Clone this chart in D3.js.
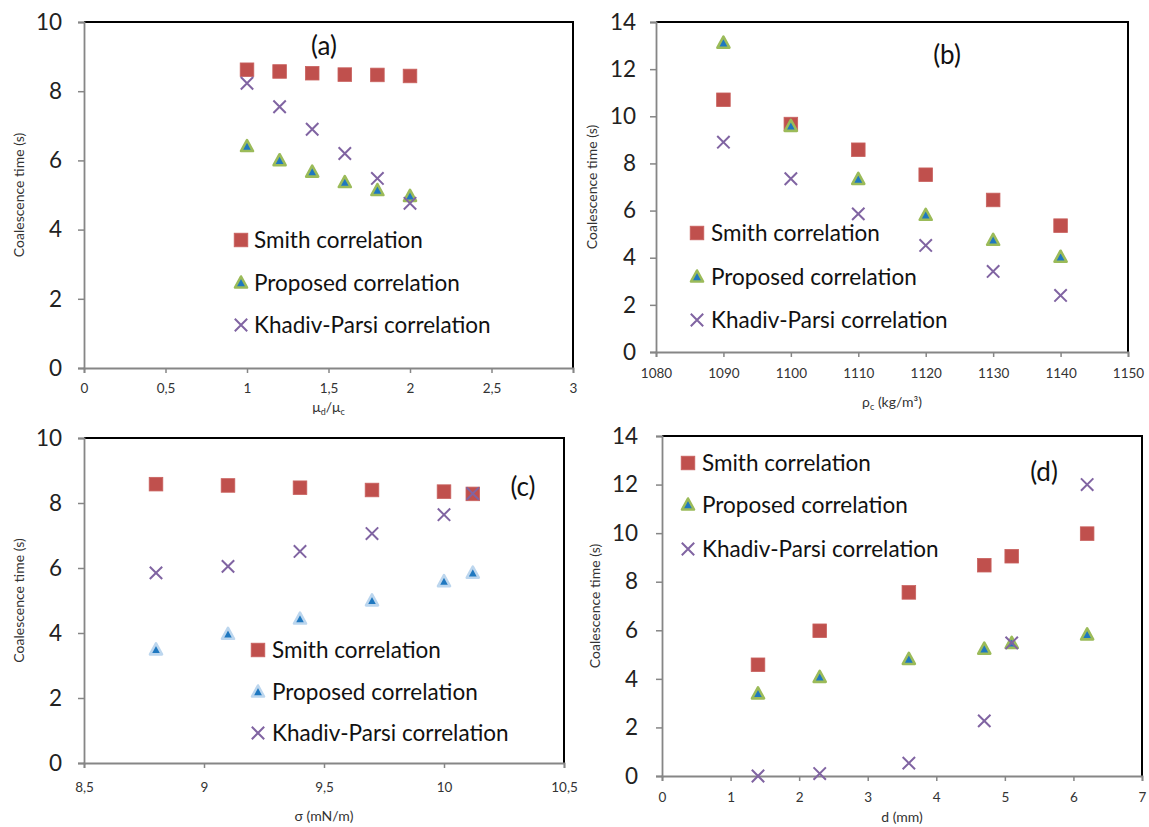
<!DOCTYPE html>
<html><head><meta charset="utf-8">
<script src="https://cdn.jsdelivr.net/npm/d3@7"></script>
<style>
html,body{margin:0;padding:0;background:#fff;}
svg{display:block;font-family:Lato, "Open Sans", sans-serif;}
</style></head>
<body><svg id="c" width="1149" height="827"></svg>
<script>
// ---------- DATA ----------
const seriesNames = ["Smith correlation", "Proposed correlation", "Khadiv-Parsi correlation"];
const yTitle = "Coalescence time (s)";

// (a) viscosity ratio
const aX = [1, 1.2, 1.4, 1.6, 1.8, 2];
const aSmith = [8.62, 8.57, 8.52, 8.48, 8.47, 8.44];
const aProposed = [6.40, 5.99, 5.66, 5.36, 5.13, 4.96];
const aKhadiv = [8.23, 7.55, 6.90, 6.20, 5.48, 4.76];
const aXTicks = [0, 0.5, 1, 1.5, 2, 2.5, 3];
const aYTicks = [0, 2, 4, 6, 8, 10];

// (b) continuous phase density
const bX = [1090, 1100, 1110, 1120, 1130, 1140];
const bSmith = [10.70, 9.67, 8.58, 7.52, 6.45, 5.36];
const bProposed = [13.10, 9.57, 7.32, 5.80, 4.74, 4.02];
const bKhadiv = [8.90, 7.35, 5.86, 4.52, 3.42, 2.40];
const bXTicks = [1080, 1090, 1100, 1110, 1120, 1130, 1140, 1150];
const bYTicks = [0, 2, 4, 6, 8, 10, 12, 14];

// (c) interfacial tension
const cX = [8.8, 9.1, 9.4, 9.7, 10.0, 10.12];
const cSmith = [8.58, 8.54, 8.47, 8.40, 8.35, 8.28];
const cProposed = [3.48, 3.96, 4.43, 4.99, 5.58, 5.84];
const cKhadiv = [5.85, 6.05, 6.51, 7.06, 7.64, 8.29];
const cXTicks = [8.5, 9, 9.5, 10, 10.5];
const cYTicks = [0, 2, 4, 6, 8, 10];

// (d) drop diameter
const dX = [1.4, 2.3, 3.6, 4.7, 5.1, 6.2];
const dSmith = [4.58, 5.98, 7.56, 8.68, 9.05, 9.98];
const dProposed = [3.38, 4.06, 4.80, 5.22, 5.46, 5.81];
const dKhadiv = [0.0, 0.10, 0.53, 2.27, 5.48, 12.0];
const dXTicks = [0, 1, 2, 3, 4, 5, 6, 7];
const dYTicks = [0, 2, 4, 6, 8, 10, 12, 14];

// ---------- STYLE / LAYOUT ----------
const RED = "#C0504D", GREEN = "#9BBB59", PURPLE = "#8064A2", BLUE = "#1F78C0", LBLUE = "#BCD6EE";
const AXIS = "#868686";
const loc = d3.formatLocale({decimal: ",", thousands: ".", grouping: [3], currency: ["", ""]});
const fmt = loc.format("~g");

const panels = [
  {label: "(a)", x: aX, s: [aSmith, aProposed, aKhadiv], xd: [0, 3], yd: [0, 10], xt: aXTicks, yt: aYTicks,
   L: 84, R: 573, T: 22, B: 368, tri: "green",
   xTitle: [["μ", 0], ["d", 1], ["/μ", 0], ["c", 1]], xTitleY: 412, xtY: 388, ytX: 19, ytEnd: 62,
   lab: [324, 46], leg: {mx: 241, tx: 254, rows: [240, 283, 325]}},
  {label: "(b)", x: bX, s: [bSmith, bProposed, bKhadiv], xd: [1080, 1150], yd: [0, 14], xt: bXTicks, yt: bYTicks,
   L: 656, R: 1128, T: 22, B: 352, tri: "green",
   xTitle: [["ρ", 0], ["c", 1], [" (kg/m³)", 0]], xTitleY: 407, xtY: 373, ytX: 592, ytEnd: 636,
   lab: [947, 55], leg: {mx: 697, tx: 711, rows: [233, 277, 320]}},
  {label: "(c)", x: cX, s: [cSmith, cProposed, cKhadiv], xd: [8.5, 10.5], yd: [0, 10], xt: cXTicks, yt: cYTicks,
   L: 84, R: 564, T: 438, B: 763, tri: "blue",
   xTitle: [["σ (mN/m)", 0]], xTitleY: 821, xtY: 787, ytX: 19, ytEnd: 62,
   lab: [523, 487], leg: {mx: 258, tx: 272, rows: [650, 692, 733]}},
  {label: "(d)", x: dX, s: [dSmith, dProposed, dKhadiv], xd: [0, 7], yd: [0, 14], xt: dXTicks, yt: dYTicks,
   L: 662, R: 1142, T: 436, B: 776, tri: "green",
   xTitle: [["d (mm)", 0]], xTitleY: 822, xtY: 797, ytX: 595, ytEnd: 638,
   lab: [1044, 472], leg: {mx: 688, tx: 702, rows: [463, 505, 549]}}
];

const svg = d3.select("#c");

function square(g, cx, cy) {
  g.append("rect").attr("x", cx - 6.8).attr("y", cy - 6.8).attr("width", 13.6).attr("height", 13.6)
    .attr("fill", RED).attr("stroke", "#C9625F").attr("stroke-width", 0.8);
}
function triangle(g, cx, cy, kind) {
  const p = `M${cx},${cy - 6.5}L${cx + 6},${cy + 4.5}L${cx - 6},${cy + 4.5}Z`;
  g.append("path").attr("d", p).attr("fill", BLUE)
    .attr("stroke", kind === "green" ? GREEN : LBLUE).attr("stroke-width", 2.6)
    .attr("stroke-linejoin", "round");
}
function cross(g, cx, cy) {
  const h = 6.2;
  g.append("path").attr("d", `M${cx - h},${cy - h}L${cx + h},${cy + h}M${cx - h},${cy + h}L${cx + h},${cy - h}`)
    .attr("stroke", PURPLE).attr("stroke-width", 2).attr("fill", "none");
}

panels.forEach(p => {
  const x = d3.scaleLinear().domain(p.xd).range([p.L, p.R]);
  const y = d3.scaleLinear().domain(p.yd).range([p.B, p.T]);
  const g = svg.append("g");

  // frame (top & right black)
  g.append("path").attr("d", `M${p.L},${p.T}H${p.R}V${p.B}`).attr("fill", "none")
    .attr("stroke", "#000").attr("stroke-width", 2);

  // y axis
  const ya = g.append("g").attr("transform", `translate(${p.L},0)`)
    .call(d3.axisLeft(y).tickValues(p.yt).tickFormat(fmt).tickSize(6).tickPadding(0));
  ya.select(".domain").attr("stroke", AXIS).attr("stroke-width", 1.8);
  ya.selectAll(".tick line").attr("stroke", AXIS).attr("stroke-width", 1.5);
  ya.selectAll(".tick text").attr("x", p.ytEnd - p.L).attr("font-size", 22.5).attr("fill", "#222")
    .attr("font-family", "Lato, sans-serif");

  // x axis
  const xa = g.append("g").attr("transform", `translate(0,${p.B})`)
    .call(d3.axisBottom(x).tickValues(p.xt).tickFormat(fmt).tickSize(5).tickPadding(0));
  xa.select(".domain").attr("stroke", AXIS).attr("stroke-width", 1.8);
  xa.selectAll(".tick line").attr("stroke", AXIS).attr("stroke-width", 1.5);
  xa.selectAll(".tick text").attr("y", p.xtY - p.B).attr("dy", "0.35em").attr("font-size", 13.5)
    .attr("fill", "#333").attr("font-family", "Lato, sans-serif");

  // y title
  g.append("text").attr("transform", `translate(${p.ytX},${(p.T + p.B) / 2}) rotate(-90)`)
    .attr("text-anchor", "middle").attr("dy", "0.35em").attr("font-size", 14).attr("fill", "#333")
    .text(yTitle);

  // x title
  const xt = g.append("text").attr("x", (p.L + p.R) / 2).attr("y", p.xTitleY).attr("text-anchor", "middle")
    .attr("font-size", 14).attr("fill", "#333");
  p.xTitle.forEach(([t, sub]) => {
    const ts = xt.append("tspan").text(t);
    if (sub) ts.attr("font-size", 9).attr("dy", 3);
    else ts.attr("dy", xt.selectAll("tspan").size() > 1 ? -3 : 0);
  });

  // panel label
  g.append("text").attr("x", p.lab[0]).attr("y", p.lab[1]).attr("dy", "0.35em").attr("text-anchor", "middle")
    .attr("font-size", 26).attr("fill", "#111").text(p.label);

  // series
  const sm = g.append("g"), pr = g.append("g"), kh = g.append("g");
  p.x.forEach((xv, i) => square(sm, x(xv), y(p.s[0][i])));
  p.x.forEach((xv, i) => triangle(pr, x(xv), y(p.s[1][i]), p.tri));
  p.x.forEach((xv, i) => cross(kh, x(xv), y(p.s[2][i])));

  // legend
  const lg = g.append("g");
  square(lg, p.leg.mx, p.leg.rows[0]);
  triangle(lg, p.leg.mx, p.leg.rows[1], p.tri);
  cross(lg, p.leg.mx, p.leg.rows[2]);
  seriesNames.forEach((n, i) => {
    lg.append("text").attr("x", p.leg.tx).attr("y", p.leg.rows[i]).attr("dy", "0.35em")
      .attr("font-size", 22.5).attr("fill", "#111").text(n);
  });
});
</script></body></html>
